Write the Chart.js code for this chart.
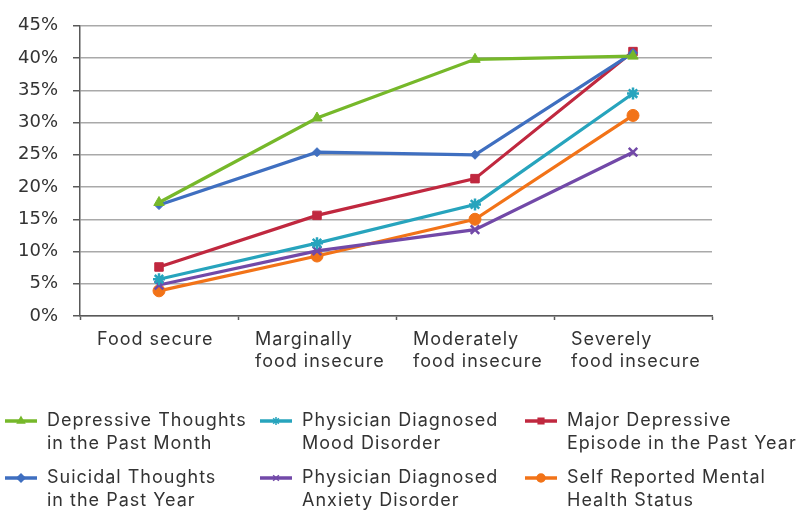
<!DOCTYPE html>
<html>
<head>
<meta charset="utf-8">
<script src="https://cdn.jsdelivr.net/npm/chart.js@4/dist/chart.umd.min.js"></script>
<style>
  html, body { margin: 0; padding: 0; background: #ffffff; }
  #wrap { width: 797px; height: 510px; position: relative; }
</style>
</head>
<body>
<div id="wrap"><canvas id="chart" width="797" height="510"></canvas></div>
<script>
// Food security categories (multi-line axis labels)
const categories = [
  ["Food secure"],
  ["Marginally", "food insecure"],
  ["Moderately", "food insecure"],
  ["Severely", "food insecure"]
];

// Share of respondents (%) for each outcome
const depressiveThoughts = [17.6, 30.7, 39.8, 40.3];
const suicidalThoughts   = [17.2, 25.4, 25.0, 40.8];
const moodDisorder       = [5.7, 11.3, 17.3, 34.5];
const anxietyDisorder    = [4.8, 10.1, 13.4, 25.4];
const majorDepressive    = [7.6, 15.6, 21.3, 41.0];
const selfReported       = [3.9, 9.3, 15.0, 31.1];

// Legend text, one array of lines per series
const seriesNames = [
  ["Depressive Thoughts", "in the Past Month"],
  ["Suicidal Thoughts", "in the Past Year"],
  ["Physician Diagnosed", "Mood Disorder"],
  ["Physician Diagnosed", "Anxiety Disorder"],
  ["Major Depressive", "Episode in the Past Year"],
  ["Self Reported Mental", "Health Status"]
];

// Y axis range and step (percent)
const yMin = 0, yMax = 45, yStep = 5;

const seriesValues = [depressiveThoughts, suicidalThoughts, moodDisorder, anxietyDisorder, majorDepressive, selfReported];
const seriesColors = ["#76b82a", "#3f6fc0", "#27a4bd", "#7249a8", "#c0283f", "#f27318"];
const seriesMarkers = ["triangle", "rectRot", "star", "crossRot", "rect", "circle"];
const markerRadius = [6, 4.5, 6, 6, 6, 6];

const textFont = "Inter, 'Open Sans', sans-serif";
const textColor = "#333333";
const wideSpacing = "1px";

const datasets = seriesValues.map((vals, i) => ({
  label: seriesNames[i].join(" "),
  legendLines: seriesNames[i],
  data: vals,
  borderColor: seriesColors[i],
  backgroundColor: seriesColors[i],
  borderWidth: 3.2,
  pointStyle: seriesMarkers[i],
  pointRadius: markerRadius[i],
  pointHoverRadius: markerRadius[i],
  pointBorderWidth: (seriesMarkers[i] === "star" || seriesMarkers[i] === "crossRot") ? 2.5 : 1,
  tension: 0,
  fill: false
}));

// Category labels use open letter spacing; the percent labels (drawn later, z = 1) do not
const spacing = {
  id: "spacing",
  beforeDraw(chart) { chart.ctx.letterSpacing = wideSpacing; },
  afterDatasetsDraw(chart) { chart.ctx.letterSpacing = "0px"; }
};

// Three-column legend drawn under the plot, two lines of text per entry
const legendGrid = {
  id: "legendGrid",
  afterDraw(chart, args, opts) {
    const ctx = chart.ctx;
    ctx.save();
    chart.data.datasets.forEach((ds, i) => {
      const col = Math.floor(i / 2), row = i % 2;
      const x0 = opts.colX[col];
      const y0 = opts.rowY[row];
      ctx.letterSpacing = "0px";
      ctx.strokeStyle = ds.borderColor;
      ctx.lineWidth = 3.5;
      ctx.beginPath();
      ctx.moveTo(x0, y0);
      ctx.lineTo(x0 + opts.lineLen, y0);
      ctx.stroke();
      ctx.fillStyle = ds.backgroundColor;
      ctx.lineWidth = 1.5;
      Chart.helpers.drawPoint(ctx, {
        pointStyle: ds.pointStyle,
        radius: Math.min(ds.pointRadius, 4),
        rotation: 0,
        borderWidth: 1.5
      }, x0 + opts.lineLen / 2, y0);
      ctx.letterSpacing = wideSpacing;
      ctx.fillStyle = textColor;
      ctx.font = opts.font;
      ctx.textAlign = "left";
      ctx.textBaseline = "middle";
      ds.legendLines.forEach((line, k) => {
        ctx.fillText(line, x0 + opts.lineLen + opts.gap, y0 + k * opts.lineHeight);
      });
    });
    ctx.restore();
  }
};

new Chart(document.getElementById("chart"), {
  type: "line",
  data: { labels: categories, datasets: datasets },
  plugins: [spacing, legendGrid],
  options: {
    responsive: false,
    devicePixelRatio: 1,
    animation: false,
    layout: { padding: { top: 23, right: 85, bottom: 0, left: 0 } },
    plugins: {
      legend: { display: false },
      tooltip: { enabled: false },
      legendGrid: {
        colX: [5, 260, 525],
        rowY: [421, 478],
        lineLen: 32,
        gap: 10,
        lineHeight: 23,
        font: "18px " + textFont
      }
    },
    scales: {
      x: {
        offset: true,
        afterFit: (s) => { s.height = 194; },
        grid: {
          offset: true,
          drawOnChartArea: false,
          drawTicks: true,
          tickLength: 4,
          tickColor: "#595959",
          tickWidth: 1.5
        },
        border: { color: "#595959", width: 1.5 },
        ticks: {
          font: { family: textFont, size: 18 },
          color: textColor,
          align: "start",
          labelOffset: -62,
          padding: 9,
          maxRotation: 0,
          autoSkip: false
        }
      },
      y: {
        min: yMin,
        max: yMax,
        afterFit: (s) => { s.width = 80; },
        grid: {
          color: "#a9a9a9",
          lineWidth: 1.5,
          drawTicks: true,
          tickLength: 7,
          tickColor: "#595959",
          tickWidth: 1.5
        },
        border: { color: "#595959", width: 1.5 },
        ticks: {
          z: 1,
          stepSize: yStep,
          padding: 15,
          color: "#333333",
          font: { family: "'DejaVu Sans', Verdana, sans-serif", size: 18 },
          callback: (v) => v + "%"
        }
      }
    }
  }
});
</script>
</body>
</html>
